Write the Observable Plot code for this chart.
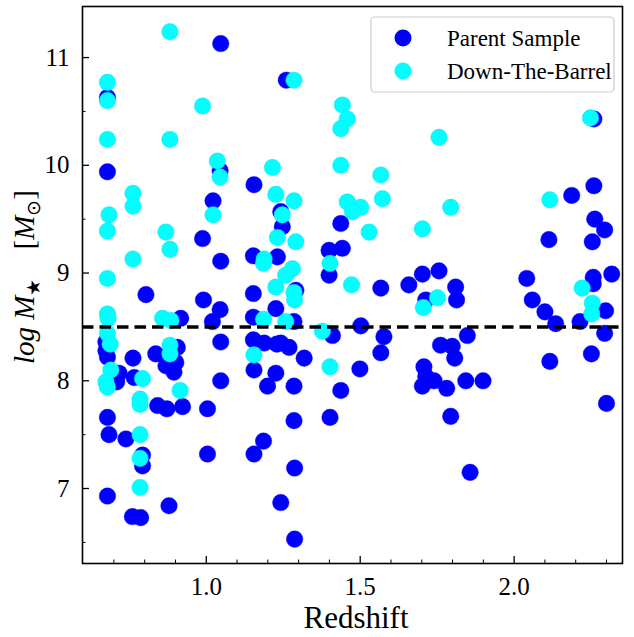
<!DOCTYPE html>
<html><head><meta charset="utf-8">
<script src="https://cdn.jsdelivr.net/npm/d3@7"></script>
<script src="https://cdn.jsdelivr.net/npm/@observablehq/plot@0.6"></script>
<style>
html,body{margin:0;padding:0;background:#fff;}
#chart{width:634px;height:637px;}
</style></head>
<body><div id="chart"></div>
<script>
const parentZ = [
0.679,1.047,0.679,1.045,1.155,1.022,1.260,1.242,1.247,0.988,
1.047,1.153,1.231,0.804,0.991,1.153,1.045,1.020,0.917,1.153,
1.226,0.674,0.674,0.679,0.717,1.047,0.762,0.836,0.906,0.869,
0.901,0.895,0.766,1.047,1.153,1.188,1.229,1.155,1.226,1.199,
0.709,0.842,0.872,0.923,1.004,0.679,0.684,0.739,0.793,0.793,
1.004,1.186,1.155,0.679,0.879,0.760,0.787,1.242,1.287,1.287,
1.285,1.285,1.437,1.402,1.242,1.269,1.318,1.285,1.410,1.502,
1.577,1.567,1.499,1.437,1.399,1.442,1.399,1.291,1.567,1.702,
1.756,1.658,1.810,1.813,1.713,1.848,1.761,1.799,1.807,1.707,
1.713,1.702,1.740,1.781,1.843,1.794,1.857,1.899,
2.259,2.259,2.187,2.262,2.294,2.113,2.254,2.041,2.257,2.257,
2.317,2.059,2.100,2.135,2.297,2.214,2.294,2.116,2.251,2.300];
const parentM = [
10.63,11.13,9.94,9.95,9.82,9.67,10.79,9.57,9.43,9.32,
9.11,9.16,9.15,8.80,8.75,8.81,8.66,8.55,8.58,8.59,
8.67,8.36,8.28,8.22,8.07,8.36,8.21,8.25,8.31,8.14,
8.17,8.08,8.03,8.00,8.38,8.35,8.34,8.10,8.07,7.95,
7.99,7.77,7.74,7.76,7.74,7.66,7.50,7.46,7.31,7.21,
7.32,7.44,7.32,6.93,6.84,6.74,6.73,6.87,6.53,7.19,
7.63,7.95,7.91,7.66,8.35,8.31,8.21,8.55,8.42,8.51,
8.41,8.26,8.11,9.46,9.21,9.23,8.98,8.84,8.86,8.99,
9.02,8.89,8.87,8.75,8.75,8.42,8.33,8.32,8.21,8.13,
8.04,7.95,8.00,7.93,8.00,7.67,7.15,8.00,
10.43,9.81,9.72,9.50,9.40,9.31,9.29,8.95,8.96,8.90,
8.99,8.75,8.64,8.53,8.65,8.55,8.44,8.18,8.25,7.79];
const dtbZ = [
0.882,0.679,0.679,0.988,0.679,0.882,1.036,1.045,1.215,0.762,
0.762,1.022,1.226,0.684,0.679,0.869,0.882,0.762,1.188,1.186,
1.231,0.679,1.226,0.858,0.885,1.186,0.679,0.681,0.679,0.688,
0.690,0.674,0.679,0.882,0.882,0.793,1.155,0.785,0.785,0.915,
0.785,0.785,0.785,1.285,1.442,1.458,1.437,1.756,1.437,1.567,
1.285,1.458,1.502,1.475,1.572,1.247,1.291,1.529,1.794,1.702,
1.402,1.280,1.258,1.285,1.287,1.472,1.751,1.705,1.258,1.377,
1.402,2.248,2.116,2.221,2.254,2.252];
const dtbM = [
11.24,10.77,10.60,10.55,10.24,10.24,10.04,9.89,9.98,9.74,
9.62,9.54,9.73,9.54,9.39,9.38,9.22,9.13,9.13,9.09,
9.33,8.95,8.87,8.58,8.56,8.57,8.62,8.58,8.44,8.34,
8.10,7.99,7.94,8.33,8.25,8.02,8.24,7.83,7.78,7.91,
7.50,7.28,7.01,10.79,10.56,10.43,10.34,10.26,10.00,9.91,
9.67,9.66,9.61,9.57,9.69,9.54,9.29,9.38,9.61,9.41,
9.09,9.04,8.98,8.82,8.75,8.89,8.77,8.68,8.55,8.46,
8.13,10.44,9.68,8.86,8.72,8.62];
const thresholdM = [8.5];
const xMajor = [1.0, 1.5, 2.0];
const xMinor = [0.7,0.8,0.9,1.1,1.2,1.3,1.4,1.6,1.7,1.8,1.9,2.1,2.2,2.3];
const yMajor = [7, 8, 9, 10, 11];
const yMinor = [6.5, 7.5, 8.5, 9.5, 10.5];
const seriesNames = ["Parent Sample", "Down-The-Barrel"];
const seriesColors = ["#0000ff", "#00ffff"];
const xLabel = "Redshift";

const parent = parentZ.map((z, i) => ({z, m: parentM[i]}));
const dtb = dtbZ.map((z, i) => ({z, m: dtbM[i]}));

const W = 634, H = 637;
const fontFam = "'Liberation Serif', 'Times New Roman', serif";
const plot = Plot.plot({
  width: W, height: H,
  marginLeft: 82, marginRight: 12, marginTop: 6, marginBottom: 74,
  style: {fontFamily: fontFam, fontSize: "25px", background: "white", color: "black"},
  x: {domain: [0.598, 2.352]},
  y: {domain: [6.304, 11.474]},
  marks: [
    Plot.dot(parent, {x: "z", y: "m", r: 8.3, fill: seriesColors[0], stroke: seriesColors[0], strokeOpacity: 0.6, strokeWidth: 0.6}),
    Plot.dot(dtb, {x: "z", y: "m", r: 8.3, fill: seriesColors[1], stroke: "#1ad6f0", strokeOpacity: 0.6, strokeWidth: 0.6}),
    Plot.ruleY(thresholdM, {stroke: "black", strokeWidth: 3.5, strokeDasharray: "11.5,6"}),
    Plot.axisX({ticks: xMajor, tickSize: -7, tickPadding: 21, tickFormat: d => d.toFixed(1), label: null, strokeWidth: 1.3}),
    Plot.axisX({ticks: xMinor, tickSize: -3.5, tickFormat: () => "", label: null, strokeWidth: 1}),
    Plot.axisY({ticks: yMajor, tickSize: -7, tickPadding: 20, tickFormat: d => String(d), label: null, strokeWidth: 1.3}),
    Plot.axisY({ticks: yMinor, tickSize: -3.5, tickFormat: () => "", label: null, strokeWidth: 1}),
    Plot.frame({stroke: "black", strokeWidth: 1.6})
  ]
});
document.getElementById("chart").appendChild(plot);

const svg = d3.select(plot);
// x label
svg.append("text")
  .attr("x", 356).attr("y", 628)
  .attr("text-anchor", "middle")
  .attr("font-family", fontFam).attr("font-size", 31).attr("fill", "black")
  .text(xLabel);
// y label
const yl = svg.append("text")
  .attr("transform", "translate(34,277) rotate(-90)")
  .attr("text-anchor", "middle")
  .attr("font-family", fontFam).attr("font-size", 29).attr("fill", "black");
yl.append("tspan").attr("font-style", "italic").text("log M");
yl.append("tspan").attr("font-size", 19).attr("dy", 6).text("★");
yl.append("tspan").attr("dy", -6).text("\u2002\u2002[");
yl.append("tspan").attr("font-style", "italic").text("M");
yl.append("tspan").attr("font-size", 19).attr("dy", 6).text("⊙");
yl.append("tspan").attr("dy", -6).text("]");

// legend
const lg = svg.append("g");
lg.append("rect").attr("x", 371).attr("y", 17).attr("width", 243).attr("height", 75)
  .attr("rx", 4).attr("fill", "white").attr("fill-opacity", 0.8)
  .attr("stroke", "#cccccc").attr("stroke-width", 1.2);
seriesNames.forEach((name, i) => {
  const cy = 38 + i * 33;
  lg.append("circle").attr("cx", 403).attr("cy", cy).attr("r", 8.5).attr("fill", seriesColors[i]);
  lg.append("text").attr("x", 447).attr("y", cy).attr("dy", "0.35em")
    .attr("text-anchor", "start")
    .attr("font-family", fontFam).attr("font-size", 23).attr("fill", "black").text(name);
});
</script></body></html>
